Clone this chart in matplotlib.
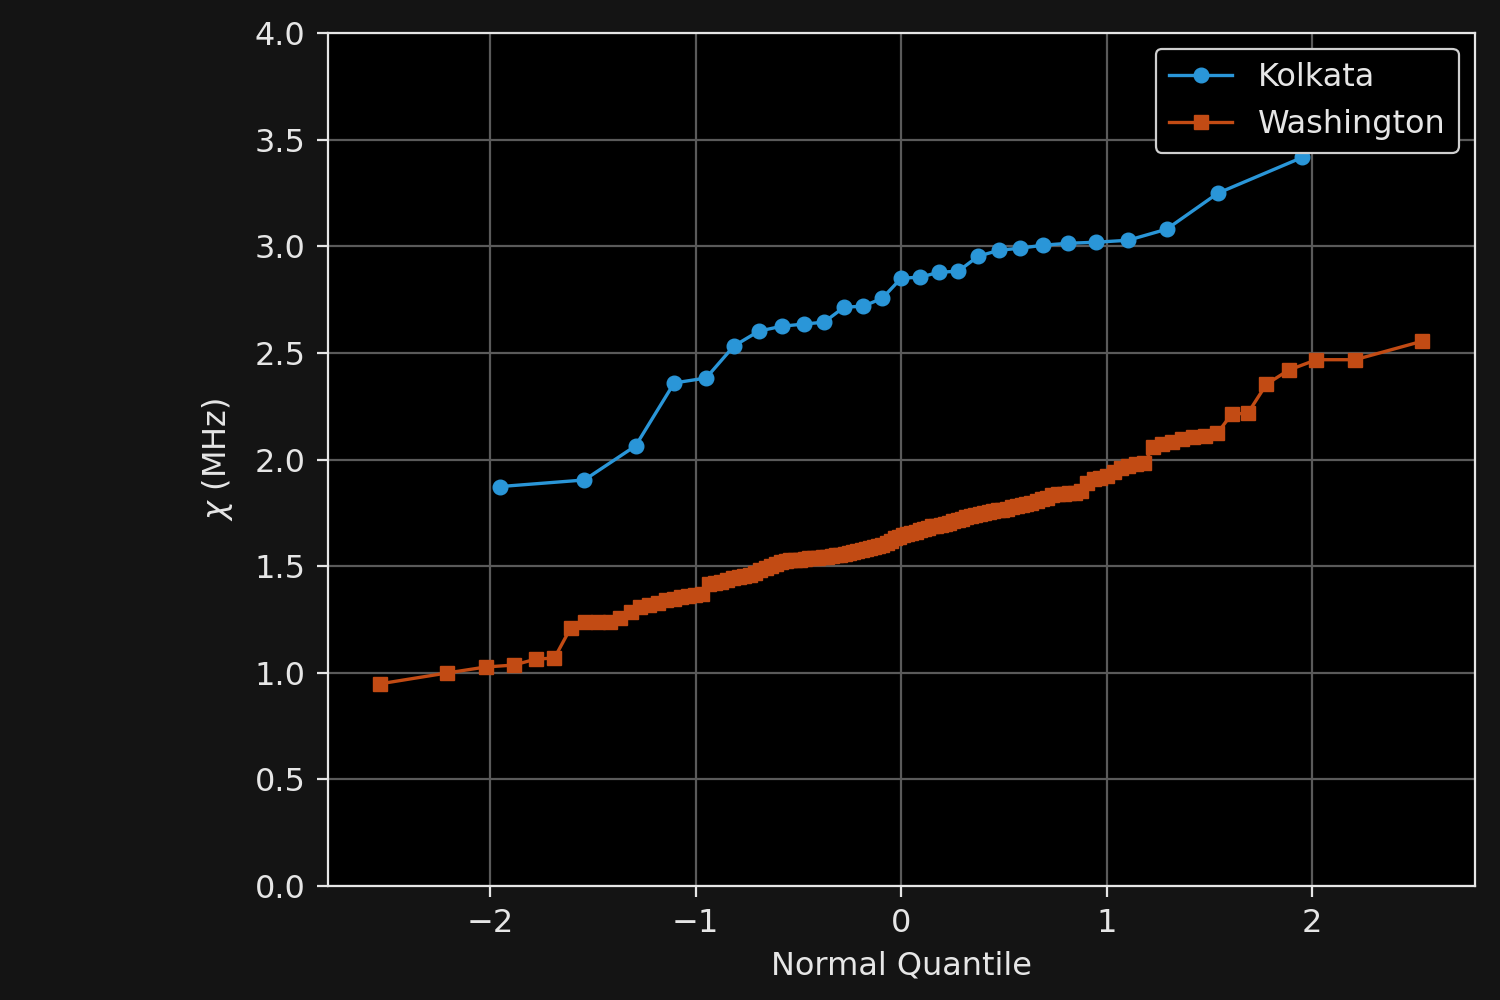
import matplotlib
matplotlib.use("Agg")
import matplotlib.pyplot as plt
from statistics import NormalDist

# sorted chi values (MHz)
kolkata = [1.873, 1.904, 2.064, 2.359, 2.382, 2.532, 2.602, 2.625, 2.635,
           2.644, 2.714, 2.719, 2.756, 2.850, 2.855, 2.878, 2.883, 2.953,
           2.981, 2.991, 3.005, 3.014, 3.019, 3.028, 3.080, 3.249, 3.417]

washington = [0.948, 0.999, 1.027, 1.036, 1.064, 1.069, 1.209, 1.236, 1.238,
              1.240, 1.257, 1.287, 1.308, 1.320, 1.325, 1.339, 1.346, 1.355,
              1.360, 1.364, 1.367, 1.414, 1.421, 1.425, 1.435, 1.444, 1.449,
              1.453, 1.458, 1.467, 1.481, 1.491, 1.500, 1.509, 1.517, 1.524,
              1.528, 1.531, 1.531, 1.533, 1.536, 1.538, 1.540, 1.543, 1.545,
              1.547, 1.552, 1.552, 1.557, 1.561, 1.566, 1.571, 1.575, 1.580,
              1.585, 1.589, 1.594, 1.599, 1.608, 1.617, 1.631, 1.636, 1.645,
              1.650, 1.654, 1.659, 1.669, 1.676, 1.681, 1.686, 1.688, 1.693,
              1.697, 1.702, 1.711, 1.716, 1.723, 1.730, 1.735, 1.739, 1.744,
              1.749, 1.753, 1.758, 1.763, 1.765, 1.770, 1.775, 1.782, 1.786,
              1.791, 1.796, 1.805, 1.814, 1.819, 1.833, 1.838, 1.840, 1.843,
              1.845, 1.850, 1.889, 1.908, 1.913, 1.922, 1.943, 1.962, 1.969,
              1.978, 1.983, 2.060, 2.072, 2.082, 2.096, 2.105, 2.110, 2.124,
              2.213, 2.217, 2.353, 2.419, 2.468, 2.468, 2.555]


def normal_quantiles(n):
    # Filliben order statistic medians (same as scipy probplot)
    nd = NormalDist()
    out = []
    for i in range(1, n + 1):
        if i == 1:
            m = 1 - 0.5 ** (1.0 / n)
        elif i == n:
            m = 0.5 ** (1.0 / n)
        else:
            m = (i - 0.3175) / (n + 0.365)
        out.append(nd.inv_cdf(m))
    return out


fg = "#e6e6e6"
plt.rcParams.update({
    "font.size": 23,
    "text.color": fg,
    "axes.labelcolor": fg,
    "xtick.color": fg,
    "ytick.color": fg,
})

fig = plt.figure(figsize=(15, 10), dpi=100, facecolor="#141414")
ax = fig.add_axes([0.2185, 0.114, 0.7645, 0.853])
ax.set_facecolor("black")
for s in ax.spines.values():
    s.set_color(fg)
    s.set_linewidth(1.6)

ax.grid(True, color="#5a5a5a", linewidth=1.6)
ax.set_axisbelow(True)

ax.plot(normal_quantiles(len(kolkata)), kolkata, "-o", color="#2a96d8",
        lw=2.4, markersize=10.5, label="Kolkata")
ax.plot(normal_quantiles(len(washington)), washington, "-s", color="#c24b14",
        lw=2.4, markersize=9.5, label="Washington")

ax.set_ylim(0, 4)
ax.set_yticks([0, 0.5, 1, 1.5, 2, 2.5, 3, 3.5, 4])
ax.set_xticks([-2, -1, 0, 1, 2])
ax.tick_params(width=1.6, length=8, labelsize=23, pad=8)
ax.set_xlabel("Normal Quantile", fontsize=23, labelpad=8)
ax.set_ylabel(r"$\chi$ (MHz)", fontsize=23, labelpad=14)

leg = ax.legend(loc="upper right", fontsize=23, facecolor="black",
                edgecolor="#cfcfcf", framealpha=1)
leg.get_frame().set_linewidth(1.6)

fig.savefig("out.png", facecolor=fig.get_facecolor())
